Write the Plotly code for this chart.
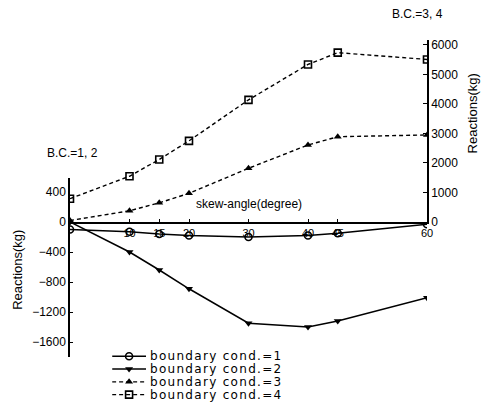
import plotly.graph_objects as go

# Skew angle (degree) and support reactions (kg) for four boundary conditions
angles = [0, 10, 15, 20, 30, 40, 45, 60]
bc1 = [-100, -130, -160, -180, -200, -180, -150, -30]
bc2 = [0, -400, -640, -890, -1350, -1400, -1320, -1010]
bc3 = [50, 380, 650, 970, 1820, 2610, 2890, 2950]
bc4 = [790, 1550, 2120, 2750, 4140, 5340, 5740, 5510]

x_ticks = [10, 15, 20, 30, 40, 45, 60]
left_ticks = [400, 0, -400, -800, -1200, -1600]
right_ticks = [0, 1000, 2000, 3000, 4000, 5000, 6000]
legend_names = ["boundary cond.=1", "boundary cond.=2",
                "boundary cond.=3", "boundary cond.=4"]

FONT = "Liberation Sans"
styles = [
    dict(marker=dict(symbol="circle-open", size=7, color="black", line=dict(width=1.6, color="black")),
         line=dict(color="black", width=1.5)),
    dict(marker=dict(symbol="triangle-down", size=7, color="black"),
         line=dict(color="black", width=1.5)),
    dict(marker=dict(symbol="triangle-up", size=7, color="black"),
         line=dict(color="black", width=1.4, dash="4px,3px")),
    dict(marker=dict(symbol="square-open", size=7, color="black", line=dict(width=1.6, color="black")),
         line=dict(color="black", width=1.4, dash="4px,3px")),
]

fig = go.Figure()
series = [(bc1, "y"), (bc2, "y"), (bc3, "y2"), (bc4, "y2")]
for (vals, yax), st, name in zip(series, styles, legend_names):
    fig.add_trace(go.Scatter(x=angles, y=vals, mode="lines+markers", name=name,
                             xaxis="x", yaxis=yax, showlegend=False,
                             marker=st["marker"], line=st["line"]))

# Legend keys drawn in their own small axis below the plot
for i, (st, name) in enumerate(zip(styles, legend_names)):
    fig.add_trace(go.Scatter(x=[0, 0.5, 1], y=[i, i, i], mode="lines", xaxis="x3", yaxis="y3",
                             showlegend=False, line=st["line"], hoverinfo="skip"))
    fig.add_trace(go.Scatter(x=[0.5], y=[i], mode="markers", xaxis="x3", yaxis="y3",
                             showlegend=False, marker=st["marker"], hoverinfo="skip"))
    fig.add_annotation(text=f'<span style="letter-spacing:1.3px">{name}</span>',
                       xref="paper", yref="y3", x=0.218, y=i,
                       xanchor="left", yanchor="middle", showarrow=False,
                       font=dict(family="DejaVu Sans", size=12, color="black"))

tickfont = dict(family=FONT, size=12, color="black")
fig.update_layout(
    template="none",
    width=490, height=410,
    margin=dict(l=70, r=63, t=40, b=5, autoexpand=False),
    paper_bgcolor="white", plot_bgcolor="white",
    font=dict(family=FONT, size=12, color="black"),
    xaxis=dict(domain=[0, 1], range=[0, 60], anchor="y2", tickvals=x_ticks,
               ticks="inside", ticklen=3, tickcolor="black", showline=True,
               linecolor="black", linewidth=1.5, showgrid=False, zeroline=False,
               automargin=False, tickfont=dict(family=FONT, size=11, color="black")),
    yaxis=dict(domain=[0.1315, 0.6219], range=[-1800, 587], anchor="x", side="left",
               tickvals=left_ticks, showline=True, linecolor="black", linewidth=1.5,
               showgrid=False, zeroline=False, ticks="inside", ticklen=3,
               tickcolor="black", automargin=False, tickfont=tickfont),
    yaxis2=dict(domain=[0.5014, 1], range=[0, 6169], anchor="x", side="right",
                tickvals=right_ticks, showline=True, linecolor="black", linewidth=1.5,
                showgrid=False, zeroline=False, ticks="inside", ticklen=4,
                tickcolor="black", automargin=False, tickfont=tickfont),
    xaxis3=dict(domain=[0.118, 0.213], range=[0, 1], anchor="y3", visible=False),
    yaxis3=dict(domain=[0.011, 0.151], range=[3.5, -0.5], anchor="x3", visible=False),
)

titlefont = dict(family=FONT, size=13, color="black")
fig.add_annotation(text="Reactions(kg)", xref="paper", yref="paper",
                   x=-0.146, y=0.37, textangle=-90, xanchor="center", yanchor="middle",
                   showarrow=False, font=titlefont)
fig.add_annotation(text="Reactions(kg)", xref="paper", yref="paper",
                   x=1.13, y=0.80, textangle=-90, xanchor="center", yanchor="middle",
                   showarrow=False, font=titlefont)
fig.add_annotation(text="skew-angle(degree)", xref="paper", yref="paper",
                   x=0.5, y=0.525, xanchor="center", yanchor="bottom",
                   showarrow=False, font=tickfont)
fig.add_annotation(text="B.C.=1, 2", xref="paper", yref="paper",
                   x=-0.07, y=0.69, xanchor="left", yanchor="middle",
                   showarrow=False, font=tickfont)
fig.add_annotation(text="B.C.=3, 4", xref="paper", yref="paper",
                   x=0.895, y=1.07, xanchor="left", yanchor="middle",
                   showarrow=False, font=tickfont)

fig.write_html("out.html")
